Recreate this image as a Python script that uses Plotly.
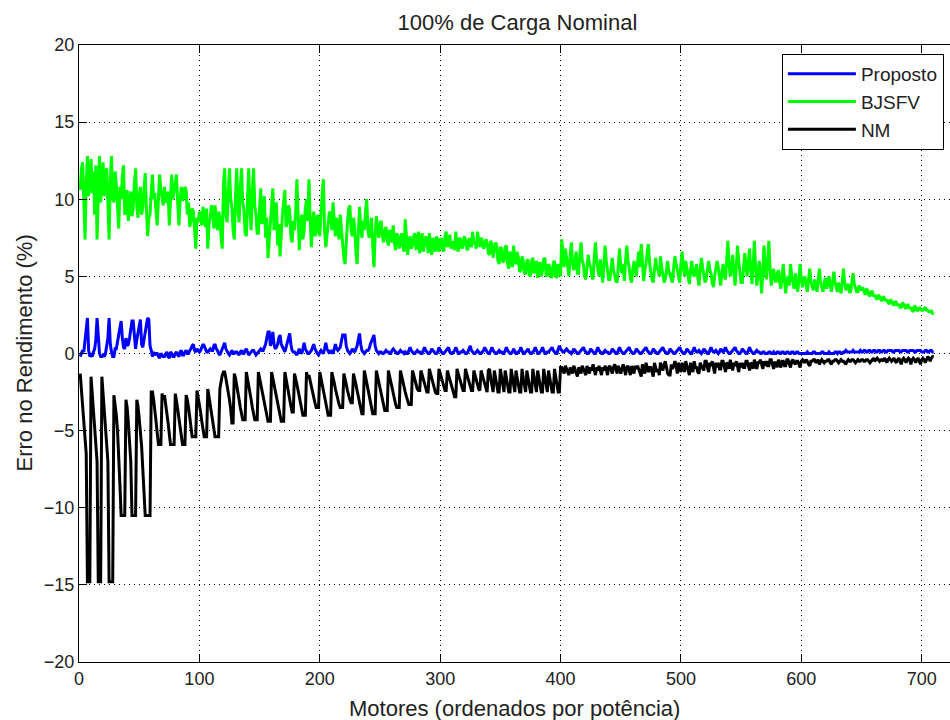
import plotly.graph_objects as go

# Motor index (ordered by rated power)
motores = list(range(1, 711))

# Erro no rendimento (%) - Proposto (one row = 10 motors)
proposto = [
    -0.2, 0.0, 0.2, 0.1, 0.8, 1.6, 2.3, 0.2, -0.2, -0.1,
    -0.2, 0.1, 0.3, 0.9, 2.3, 1.2, 0.0, -0.2, -0.2, -0.1,
    -0.2, 0.0, 0.4, 1.0, 2.3, 0.6, 0.1, -0.2, -0.2, 0.3,
    0.3, 0.8, 1.2, 1.6, 2.1, 1.0, 0.4, 0.3, 1.0, 0.5,
    0.6, 1.0, 1.5, 2.1, 2.1, 0.8, 0.3, 0.9, 1.4, 2.0,
    2.2, 0.6, 0.4, 0.9, 1.3, 1.8, 2.3, 2.2, 0.5, 0.2,
    -0.2, 0.1, -0.1, 0.0, 0.0, -0.2, -0.3, 0.0, -0.1, -0.2,
    -0.2, 0.0, 0.1, -0.2, -0.3, 0.1, 0.0, -0.2, -0.2, 0.0,
    0.1, -0.1, -0.2, 0.1, 0.2, -0.1, -0.1, 0.1, 0.2, 0.0,
    0.0, 0.2, 0.3, 0.5, 0.6, 0.2, 0.1, 0.3, 0.2, 0.1,
    0.2, 0.4, 0.6, 0.5, 0.3, 0.1, 0.1, 0.2, 0.3, 0.2,
    0.2, 0.5, 0.6, 0.3, 0.2, 0.0, -0.1, 0.1, 0.3, 0.6,
    0.7, 0.3, 0.1, 0.0, -0.1, 0.1, 0.2, 0.0, 0.0, 0.1,
    0.1, 0.0, -0.1, 0.1, 0.2, 0.0, 0.0, 0.2, 0.3, 0.1,
    -0.1, 0.0, 0.1, 0.2, 0.2, 0.0, -0.1, 0.0, 0.1, 0.2,
    0.3, 0.2, 0.2, 0.4, 0.6, 1.0, 1.4, 1.4, 0.5, 0.8,
    1.4, 0.6, 0.3, 0.4, 0.6, 1.0, 1.2, 0.6, 0.4, 0.2,
    0.1, 0.4, 0.7, 1.0, 1.3, 0.6, 0.2, 0.1, 0.1, 0.0,
    -0.1, 0.1, 0.3, 0.1, 0.0, 0.3, 0.7, 0.3, 0.1, 0.0,
    0.0, 0.1, 0.2, 0.4, 0.6, 0.3, 0.1, 0.0, -0.1, 0.1,
    0.2, 0.1, 0.0, 0.3, 0.7, 0.3, 0.1, 0.0, 0.2, 0.1,
    0.0, 0.3, 0.6, 0.3, 0.2, 0.3, 0.4, 0.8, 1.2, 1.2,
    1.2, 0.5, 0.2, 0.1, 0.0, 0.1, 0.3, 0.2, 0.1, 0.3,
    0.5, 0.9, 1.3, 0.6, 0.2, 0.1, 0.0, 0.1, 0.2, 0.2,
    0.3, 0.6, 0.8, 1.0, 1.2, 0.5, 0.2, 0.1, 0.0, 0.1,
    0.1, 0.0, 0.0, 0.1, 0.2, 0.1, 0.1, 0.0, 0.0, 0.2,
    0.3, 0.2, 0.1, 0.0, 0.0, 0.1, 0.2, 0.1, 0.1, 0.0,
    0.1, 0.0, 0.0, 0.2, 0.4, 0.2, 0.1, 0.0, 0.0, 0.1,
    0.2, 0.1, 0.1, 0.0, 0.0, 0.2, 0.4, 0.2, 0.1, 0.0,
    0.0, 0.1, 0.3, 0.2, 0.1, 0.0, 0.0, 0.1, 0.4, 0.2,
    0.1, 0.0, 0.0, 0.1, 0.2, 0.3, 0.4, 0.1, 0.0, 0.0,
    0.1, 0.2, 0.4, 0.2, 0.0, 0.0, 0.1, 0.1, 0.2, 0.1,
    0.0, 0.0, 0.1, 0.3, 0.5, 0.2, 0.1, 0.0, 0.0, 0.1,
    0.2, 0.1, 0.0, 0.0, 0.1, 0.2, 0.4, 0.2, 0.1, 0.0,
    0.0, 0.2, 0.4, 0.2, 0.1, 0.0, 0.0, 0.1, 0.2, 0.1,
    0.1, 0.0, 0.0, 0.2, 0.4, 0.2, 0.1, 0.0, 0.0, 0.1,
    0.3, 0.1, 0.0, 0.0, 0.1, 0.2, 0.4, 0.2, 0.0, 0.0,
    0.1, 0.2, 0.3, 0.1, 0.0, 0.0, 0.1, 0.2, 0.4, 0.2,
    0.0, 0.0, 0.1, 0.2, 0.4, 0.2, 0.0, 0.0, 0.1, 0.1,
    0.2, 0.3, 0.4, 0.2, 0.1, 0.0, 0.0, 0.2, 0.5, 0.3,
    0.2, 0.1, 0.1, 0.2, 0.3, 0.2, 0.1, 0.1, 0.0, 0.1,
    0.3, 0.2, 0.1, 0.0, 0.0, 0.1, 0.2, 0.3, 0.4, 0.2,
    0.1, 0.0, 0.0, 0.1, 0.3, 0.2, 0.1, 0.0, 0.0, 0.2,
    0.4, 0.2, 0.1, 0.0, 0.0, 0.1, 0.2, 0.1, 0.1, 0.0,
    0.0, 0.1, 0.3, 0.2, 0.1, 0.0, 0.0, 0.2, 0.4, 0.2,
    0.1, 0.0, 0.0, 0.1, 0.2, 0.3, 0.4, 0.2, 0.1, 0.0,
    0.0, 0.1, 0.3, 0.2, 0.1, 0.0, 0.0, 0.1, 0.2, 0.3,
    0.4, 0.2, 0.1, 0.0, 0.0, 0.1, 0.3, 0.2, 0.1, 0.0,
    0.0, 0.1, 0.2, 0.3, 0.4, 0.2, 0.1, 0.0, 0.0, 0.1,
    0.3, 0.2, 0.1, 0.0, 0.0, 0.1, 0.2, 0.3, 0.4, 0.2,
    0.1, 0.0, 0.0, 0.1, 0.3, 0.2, 0.1, 0.0, 0.0, 0.2,
    0.4, 0.2, 0.1, 0.1, 0.2, 0.1, 0.0, 0.1, 0.3, 0.2,
    0.1, 0.0, 0.0, 0.2, 0.4, 0.2, 0.1, 0.1, 0.2, 0.1,
    0.0, 0.1, 0.3, 0.2, 0.1, 0.2, 0.4, 0.2, 0.1, 0.0,
    0.0, 0.1, 0.2, 0.3, 0.4, 0.2, 0.1, 0.0, 0.0, 0.1,
    0.3, 0.2, 0.1, 0.0, 0.0, 0.2, 0.4, 0.2, 0.1, 0.0,
    0.0, 0.1, 0.2, 0.1, 0.1, 0.0, 0.0, 0.1, 0.1, 0.0,
    0.0, 0.0, 0.1, 0.1, 0.0, 0.0, 0.1, 0.0, 0.0, 0.1,
    0.1, 0.0, 0.0, 0.1, 0.1, 0.0, 0.0, 0.1, 0.1, 0.0,
    0.0, 0.1, 0.1, 0.0, 0.0, 0.1, 0.1, 0.0, 0.0, 0.0,
    0.0, 0.0, 0.0, 0.0, 0.1, 0.0, 0.0, 0.0, 0.0, 0.1,
    0.1, 0.0, 0.0, 0.0, 0.0, 0.0, 0.1, 0.1, 0.0, 0.0,
    0.0, 0.0, 0.1, 0.0, 0.0, 0.0, 0.0, 0.1, 0.1, 0.0,
    0.1, 0.1, 0.0, 0.0, 0.1, 0.1, 0.2, 0.1, 0.1, 0.1,
    0.1, 0.1, 0.2, 0.1, 0.1, 0.1, 0.1, 0.1, 0.2, 0.1,
    0.1, 0.2, 0.2, 0.1, 0.1, 0.2, 0.2, 0.1, 0.1, 0.2,
    0.2, 0.1, 0.1, 0.2, 0.2, 0.1, 0.1, 0.2, 0.2, 0.1,
    0.1, 0.2, 0.2, 0.2, 0.2, 0.1, 0.1, 0.2, 0.2, 0.2,
    0.2, 0.1, 0.1, 0.2, 0.2, 0.2, 0.2, 0.1, 0.1, 0.2,
    0.2, 0.2, 0.2, 0.1, 0.1, 0.2, 0.2, 0.2, 0.2, 0.1,
    0.1, 0.1, 0.2, 0.2, 0.1, 0.1, 0.2, 0.2, 0.1, 0.1,
]

# Erro no rendimento (%) - BJSFV
bjsfv = [
    10.6, 12.0, 12.4, 9.5, 7.4, 11.0, 12.8, 10.2, 11.2, 12.6,
    10.4, 11.8, 9.0, 12.2, 7.4, 10.5, 12.8, 9.8, 11.5, 12.4,
    10.2, 11.6, 12.0, 9.4, 7.4, 11.2, 12.8, 10.0, 9.8, 11.8,
    11.0, 9.5, 8.1, 10.8, 10.0, 11.5, 12.2, 9.0, 9.2, 10.6,
    8.6, 9.8, 10.5, 8.9, 9.4, 11.0, 12.0, 9.6, 8.8, 10.2,
    10.8, 9.0, 9.5, 10.6, 11.7, 9.4, 7.6, 8.8, 9.0, 10.5,
    11.6, 10.0, 10.4, 9.2, 8.3, 10.1, 11.6, 10.6, 10.2, 9.6,
    10.8, 9.9, 9.8, 10.5, 8.3, 9.6, 11.6, 10.0, 10.5, 11.0,
    11.6, 9.7, 8.3, 10.0, 10.8, 9.9, 10.2, 10.8, 10.6, 9.0,
    9.8, 8.2, 8.6, 9.4, 9.2, 8.0, 6.8, 8.8, 8.5, 9.2,
    9.0, 8.3, 9.5, 8.8, 8.2, 9.4, 6.8, 8.4, 8.8, 9.6,
    9.3, 8.1, 9.6, 8.7, 8.0, 9.2, 8.8, 7.6, 6.8, 11.0,
    12.0, 9.0, 8.5, 10.5, 12.0, 10.0, 9.5, 8.0, 7.4, 10.2,
    12.0, 9.5, 8.5, 10.8, 12.0, 9.8, 9.3, 7.8, 7.6, 10.0,
    12.0, 9.2, 8.0, 10.5, 12.0, 9.6, 9.0, 7.8, 7.8, 9.5,
    10.7, 8.4, 9.2, 10.2, 7.5, 8.8, 6.2, 7.4, 8.5, 9.6,
    10.7, 8.0, 8.8, 9.8, 7.0, 8.4, 6.3, 7.8, 9.0, 9.8,
    10.6, 8.2, 8.5, 9.6, 9.3, 7.6, 7.2, 8.6, 8.0, 9.2,
    11.3, 9.0, 6.7, 8.2, 9.0, 7.4, 8.0, 9.4, 10.0, 8.6,
    11.3, 8.8, 6.9, 8.4, 9.2, 7.6, 7.8, 9.0, 8.5, 7.6,
    9.4, 10.4, 11.3, 8.0, 6.9, 7.8, 8.4, 9.2, 9.0, 8.0,
    9.8, 8.4, 7.6, 8.8, 8.2, 7.4, 9.0, 8.0, 7.0, 6.2,
    5.8, 7.4, 8.5, 9.4, 9.6, 8.0, 7.6, 8.8, 8.2, 6.6,
    5.8, 7.8, 9.5, 8.2, 7.5, 8.6, 8.0, 9.2, 10.0, 8.0,
    7.5, 8.2, 8.8, 7.0, 5.6, 7.6, 8.9, 8.2, 7.5, 8.4,
    8.6, 7.6, 7.2, 8.0, 8.2, 7.4, 7.0, 8.0, 7.8, 7.2,
    8.3, 7.2, 6.7, 7.8, 7.6, 6.8, 7.2, 7.8, 7.0, 6.6,
    8.7, 7.6, 6.4, 7.2, 7.6, 6.8, 7.0, 7.6, 7.8, 6.7,
    7.2, 7.9, 6.5, 7.0, 7.8, 6.6, 7.0, 7.6, 7.4, 6.5,
    7.8, 7.0, 6.4, 7.5, 7.2, 6.6, 7.6, 7.0, 6.6, 7.4,
    7.4, 6.8, 6.6, 7.6, 7.9, 6.9, 7.1, 7.7, 6.8, 7.2,
    7.2, 6.7, 7.9, 7.0, 6.6, 7.5, 7.4, 6.8, 7.0, 7.6,
    7.4, 6.8, 6.7, 7.5, 7.2, 6.9, 7.9, 7.1, 7.2, 6.8,
    7.9, 7.2, 6.9, 7.5, 7.3, 6.8, 7.0, 7.4, 7.2, 6.5,
    6.4, 7.3, 7.1, 6.2, 6.6, 7.2, 7.0, 6.0, 5.8, 6.9,
    6.8, 5.9, 6.0, 6.9, 7.0, 5.8, 5.5, 6.6, 6.4, 5.6,
    7.0, 6.0, 5.8, 6.6, 6.2, 5.3, 5.4, 6.3, 6.0, 5.2,
    5.2, 6.0, 6.1, 5.1, 5.0, 6.0, 6.2, 5.2, 5.5, 6.0,
    4.9, 5.8, 5.9, 5.0, 5.4, 6.1, 6.2, 5.1, 5.0, 5.8,
    5.6, 4.9, 5.0, 5.9, 6.0, 5.0, 4.9, 5.8, 5.5, 5.0,
    7.4, 6.2, 5.6, 6.8, 6.2, 5.4, 5.0, 6.4, 7.2, 5.8,
    5.4, 6.0, 6.6, 5.2, 5.2, 6.4, 7.2, 6.0, 5.8, 5.0,
    4.8, 5.6, 6.4, 5.8, 5.6, 5.0, 4.8, 6.2, 7.2, 6.0,
    5.5, 5.0, 6.1, 5.4, 4.6, 5.8, 7.0, 6.0, 5.4, 4.8,
    4.8, 5.6, 6.2, 5.4, 5.0, 4.7, 4.6, 5.8, 6.8, 5.6,
    5.2, 5.8, 4.7, 6.0, 7.0, 6.0, 5.6, 4.9, 4.6, 5.4,
    6.0, 5.4, 5.0, 6.0, 6.6, 5.6, 7.1, 6.0, 4.7, 5.4,
    5.8, 6.6, 7.1, 5.8, 5.2, 4.8, 4.6, 5.6, 6.2, 5.4,
    5.5, 5.0, 6.3, 5.6, 5.0, 4.6, 4.8, 5.6, 6.0, 5.2,
    5.2, 4.8, 4.6, 5.6, 6.3, 5.8, 5.4, 4.8, 4.6, 5.8,
    6.6, 5.6, 5.0, 6.0, 5.5, 4.8, 4.5, 5.4, 6.0, 5.2,
    5.0, 5.4, 5.8, 4.9, 4.4, 5.4, 6.2, 5.6, 5.2, 4.6,
    4.8, 5.4, 6.0, 5.4, 5.2, 4.6, 4.3, 5.0, 5.5, 6.0,
    5.6, 4.8, 4.4, 5.2, 5.8, 5.0, 4.8, 6.0, 7.3, 5.8,
    5.0, 5.6, 6.4, 5.2, 4.4, 5.6, 7.0, 6.0, 5.2, 4.6,
    4.6, 5.6, 6.5, 5.6, 5.0, 6.0, 6.8, 5.4, 4.5, 5.8,
    7.3, 5.6, 4.4, 5.0, 6.0, 5.2, 3.9, 5.2, 7.0, 5.6,
    4.8, 5.8, 7.3, 5.6, 4.4, 5.0, 5.5, 4.8, 4.6, 5.2,
    5.4, 4.6, 4.2, 5.0, 5.8, 4.8, 3.9, 4.6, 5.0, 4.4,
    5.8, 5.0, 4.6, 4.2, 5.2, 4.6, 4.0, 4.8, 5.8, 4.8,
    4.3, 4.8, 5.0, 4.4, 4.0, 4.8, 5.5, 4.6, 4.4, 4.1,
    4.8, 4.3, 4.0, 4.8, 5.5, 4.6, 4.2, 4.0, 4.6, 4.9,
    4.2, 4.6, 5.0, 4.4, 4.0, 4.6, 5.3, 4.6, 4.3, 4.0,
    4.6, 4.2, 3.9, 4.6, 5.5, 4.6, 4.1, 4.4, 4.5, 4.0,
    4.0, 4.6, 5.2, 4.5, 4.2, 4.0, 4.0, 4.4, 4.2, 4.1,
    4.3, 4.0, 3.8, 4.2, 4.1, 3.8, 3.7, 4.0, 4.0, 3.7,
    3.8, 3.6, 3.5, 3.8, 3.7, 3.5, 3.4, 3.7, 3.6, 3.4,
    3.5, 3.3, 3.2, 3.5, 3.4, 3.2, 3.1, 3.4, 3.3, 3.1,
    3.2, 3.0, 3.0, 3.3, 3.2, 3.0, 2.9, 3.2, 3.1, 2.9,
    3.0, 2.8, 2.7, 3.1, 3.0, 2.8, 2.8, 3.0, 2.9, 2.8,
    2.8, 2.9, 3.0, 2.8, 2.8, 2.7, 2.7, 2.8, 2.6, 2.6,
]

# Erro no rendimento (%) - NM
nm = [
    -1.3, -2.4, -3.5, -4.5, -5.5, -6.5, -14.8, -14.8, -14.8, -1.5,
    -2.5, -3.5, -4.5, -5.5, -7.0, -14.8, -14.8, -14.8, -1.5, -2.5,
    -3.5, -4.5, -5.5, -7.0, -14.8, -14.8, -14.8, -14.8, -2.7, -3.2,
    -4.0, -5.0, -6.5, -8.5, -10.5, -10.5, -10.5, -10.5, -3.0, -3.5,
    -4.5, -5.5, -7.0, -10.5, -10.5, -10.5, -10.5, -3.0, -3.4, -4.2,
    -5.0, -6.0, -7.5, -9.0, -10.5, -10.5, -10.5, -10.5, -10.5, -2.5,
    -2.5, -3.0, -3.6, -4.4, -5.2, -5.9, -5.9, -5.9, -2.6, -3.0,
    -2.7, -3.2, -3.8, -4.5, -5.2, -5.9, -5.9, -5.9, -5.9, -2.6,
    -3.0, -3.6, -4.2, -4.8, -5.4, -5.9, -5.9, -5.9, -2.7, -3.0,
    -3.5, -4.2, -4.8, -5.4, -5.4, -5.4, -5.4, -2.4, -2.8, -3.3,
    -3.8, -4.4, -5.0, -5.4, -5.4, -5.4, -2.3, -2.8, -3.4, -4.0,
    -4.6, -5.0, -5.4, -5.4, -5.4, -5.4, -2.3, -1.8, -1.4, -1.2,
    -1.2, -1.6, -2.0, -2.5, -3.0, -3.6, -4.5, -4.5, -1.3, -1.6,
    -2.0, -2.5, -3.0, -3.5, -3.9, -4.3, -4.3, -4.3, -1.2, -1.6,
    -2.0, -2.5, -3.0, -3.5, -4.0, -4.3, -4.3, -4.3, -1.2, -1.6,
    -2.0, -2.4, -2.9, -3.3, -3.8, -4.1, -4.4, -4.4, -4.4, -1.2,
    -1.6, -2.0, -2.5, -3.0, -3.4, -3.8, -4.1, -4.4, -4.4, -4.4,
    -1.2, -1.7, -2.2, -2.6, -3.0, -3.4, -3.8, -3.8, -1.3, -1.6,
    -2.0, -2.4, -2.8, -3.2, -3.6, -4.0, -4.0, -4.0, -1.2, -1.6,
    -1.4, -1.8, -2.2, -2.6, -3.0, -3.2, -3.5, -3.5, -3.5, -1.2,
    -1.6, -2.0, -2.4, -2.8, -3.2, -3.6, -4.0, -4.0, -4.0, -1.2,
    -1.5, -1.9, -2.3, -2.7, -3.0, -3.3, -3.5, -3.5, -3.5, -1.3,
    -1.6, -2.0, -2.4, -2.8, -3.0, -3.2, -3.2, -1.3, -1.6, -2.0,
    -2.4, -2.8, -3.2, -3.6, -3.9, -3.9, -1.1, -1.5, -1.9, -2.3,
    -2.7, -3.1, -3.5, -3.9, -3.9, -3.9, -1.1, -1.5, -1.9, -2.3,
    -2.7, -3.1, -3.4, -3.7, -3.7, -3.7, -1.1, -1.5, -1.9, -2.3,
    -2.6, -3.0, -3.3, -3.5, -3.5, -3.5, -1.1, -1.5, -1.9, -2.2,
    -2.5, -2.8, -3.1, -3.3, -3.3, -3.3, -1.1, -1.4, -1.8, -2.1,
    -2.3, -2.4, -2.4, -1.1, -1.4, -1.7, -2.0, -2.3, -2.5, -2.5,
    -1.0, -1.3, -1.6, -1.9, -2.2, -2.5, -2.6, -2.6, -1.0, -1.3,
    -1.6, -1.9, -2.2, -2.4, -2.4, -1.1, -1.4, -1.7, -2.0, -2.3,
    -2.6, -2.8, -2.8, -1.0, -1.3, -1.6, -1.9, -2.2, -2.4, -2.4,
    -1.0, -1.3, -1.6, -1.9, -2.2, -2.4, -2.4, -1.1, -1.4, -1.7,
    -2.0, -2.3, -2.4, -1.1, -1.4, -1.7, -2.0, -2.3, -2.5, -1.1,
    -1.0, -1.6, -2.1, -2.5, -1.1, -1.5, -2.0, -2.5, -2.5, -1.0,
    -1.5, -2.0, -2.5, -1.1, -1.6, -2.1, -2.5, -2.5, -1.0, -1.5,
    -2.0, -2.5, -1.1, -1.5, -2.0, -2.5, -2.5, -1.0, -1.6, -2.1,
    -2.5, -1.1, -1.5, -2.0, -2.5, -2.5, -1.0, -1.5, -2.0, -2.5,
    -1.1, -1.6, -2.1, -2.5, -2.5, -1.0, -1.5, -2.0, -2.5, -1.1,
    -1.6, -2.1, -2.5, -2.5, -1.0, -1.5, -2.0, -2.5, -2.5, -0.9,
    -0.9, -1.1, -1.3, -0.8, -1.0, -1.2, -1.4, -0.9, -1.1, -1.3,
    -0.8, -1.0, -1.2, -1.5, -0.9, -1.1, -1.3, -0.8, -1.0, -1.2,
    -1.4, -0.8, -1.0, -1.3, -0.9, -1.1, -0.7, -1.0, -1.4, -0.9,
    -1.1, -0.8, -1.2, -1.4, -0.9, -1.1, -0.8, -1.0, -1.4, -0.9,
    -0.8, -1.1, -1.3, -0.9, -0.7, -1.0, -1.3, -0.8, -1.1, -1.3,
    -1.0, -0.7, -1.0, -1.4, -0.9, -0.8, -1.1, -1.4, -0.8, -1.1,
    -1.3, -0.8, -1.0, -0.8, -1.0, -1.3, -1.5, -0.7, -1.0, -1.3,
    -0.6, -0.9, -1.2, -0.9, -0.9, -1.2, -1.5, -0.6, -0.9, -1.2,
    -1.0, -1.4, -0.6, -0.9, -1.1, -0.7, -0.5, -0.9, -1.3, -1.4,
    -1.4, -0.7, -1.0, -0.8, -0.5, -0.8, -1.3, -0.6, -0.9, -1.2,
    -0.6, -1.0, -1.2, -0.5, -0.8, -1.0, -1.4, -0.6, -0.9, -1.2,
    -0.5, -0.9, -0.9, -1.2, -1.3, -0.6, -0.8, -1.0, -1.1, -0.5,
    -0.5, -0.9, -1.2, -0.6, -0.8, -0.5, -0.9, -1.3, -0.6, -0.9,
    -0.6, -1.0, -1.0, -0.5, -0.5, -0.9, -1.2, -0.6, -0.7, -1.0,
    -0.4, -0.8, -1.1, -0.6, -0.8, -0.5, -0.8, -1.2, -0.6, -0.9,
    -0.6, -0.9, -0.9, -0.5, -0.5, -0.8, -1.1, -0.6, -0.7, -1.0,
    -0.4, -0.7, -1.0, -0.6, -0.6, -0.4, -0.7, -1.0, -0.5, -0.8,
    -0.5, -0.8, -0.8, -0.4, -0.4, -0.7, -1.0, -0.6, -0.6, -0.9,
    -0.4, -0.7, -0.9, -0.5, -0.5, -0.8, -0.8, -0.4, -0.4, -0.7,
    -0.9, -0.5, -0.4, -0.6, -0.7, -0.5, -0.5, -0.7, -0.9, -0.5,
    -0.4, -0.5, -0.6, -0.4, -0.5, -0.7, -0.8, -0.5, -0.5, -0.4,
    -0.4, -0.6, -0.5, -0.4, -0.7, -0.5, -0.4, -0.5, -0.6, -0.5,
    -0.5, -0.4, -0.4, -0.6, -0.7, -0.5, -0.5, -0.4, -0.4, -0.5,
    -0.6, -0.5, -0.4, -0.5, -0.5, -0.6, -0.7, -0.5, -0.4, -0.5,
    -0.5, -0.4, -0.4, -0.5, -0.6, -0.5, -0.4, -0.5, -0.5, -0.4,
    -0.4, -0.5, -0.5, -0.4, -0.4, -0.5, -0.6, -0.5, -0.4, -0.3,
    -0.5, -0.4, -0.3, -0.4, -0.5, -0.4, -0.4, -0.5, -0.3, -0.4,
    -0.6, -0.4, -0.3, -0.4, -0.5, -0.4, -0.3, -0.5, -0.6, -0.4,
    -0.3, -0.5, -0.7, -0.4, -0.3, -0.4, -0.6, -0.4, -0.3, -0.4,
    -0.7, -0.4, -0.3, -0.4, -0.6, -0.4, -0.3, -0.5, -0.7, -0.4,
    -0.3, -0.4, -0.6, -0.4, -0.2, -0.3, -0.5, -0.3, -0.2, -0.2,
]

x_ticks = [0, 100, 200, 300, 400, 500, 600, 700]
y_ticks = [-20, -15, -10, -5, 0, 5, 10, 15, 20]

FONT = "Liberation Sans, Arial, Helvetica, sans-serif"
TXT = "#222222"

fig = go.Figure()
fig.add_trace(go.Scatter(x=motores, y=proposto, mode="lines", name="Proposto",
                         line=dict(color="#0000FF", width=3)))
fig.add_trace(go.Scatter(x=motores, y=bjsfv, mode="lines", name="BJSFV",
                         line=dict(color="#00FF00", width=3)))
fig.add_trace(go.Scatter(x=motores, y=nm, mode="lines", name="NM",
                         line=dict(color="#000000", width=3)))

axis_common = dict(
    showline=True, linecolor="black", linewidth=1,
    ticks="inside", ticklen=8, tickcolor="black", tickwidth=1,
    showgrid=True, gridcolor="black", gridwidth=1, griddash="1px,4px",
    zeroline=False, automargin=False,
    tickfont=dict(family=FONT, size=18, color=TXT),
)

fig.update_xaxes(range=[0, 723.5], tickvals=x_ticks, mirror="allticks",
                 **axis_common)
fig.update_yaxes(range=[-20, 20], tickvals=y_ticks, mirror=False,
                 **axis_common)

fig.update_layout(
    width=950, height=720,
    margin=dict(l=79, r=0, t=45, b=58),
    paper_bgcolor="white", plot_bgcolor="white",
    title=dict(text="100% de Carga Nominal", x=0.5447, xanchor="center",
               y=1 - 22 / 720, yanchor="middle",
               font=dict(family=FONT, size=22, color=TXT)),
    legend=dict(x=0.807, y=0.9855, xanchor="left", yanchor="top",
                bgcolor="white", bordercolor="black", borderwidth=1,
                font=dict(family=FONT, size=19, color=TXT),
                itemwidth=68, tracegroupgap=0),
    showlegend=True,
    annotations=[
        dict(text="Motores (ordenados por potência)", xref="paper", yref="paper",
             x=0.5, y=-46 / 617, xanchor="center", yanchor="middle",
             showarrow=False, font=dict(family=FONT, size=22, color=TXT)),
        dict(text="Erro no Rendimento (%)", xref="paper", yref="paper",
             x=-55 / 871, y=0.5, xanchor="center", yanchor="middle",
             textangle=-90, showarrow=False,
             font=dict(family=FONT, size=22, color=TXT)),
    ],
)

fig.write_html(
    "out.html",
    config={"displayModeBar": False},
    post_script=("document.documentElement.style.margin='0';"
                 "document.body.style.margin='0';"
                 "document.body.style.padding='0';"
                 "document.documentElement.style.overflow='hidden';"
                 "document.body.style.overflow='hidden';"),
)
